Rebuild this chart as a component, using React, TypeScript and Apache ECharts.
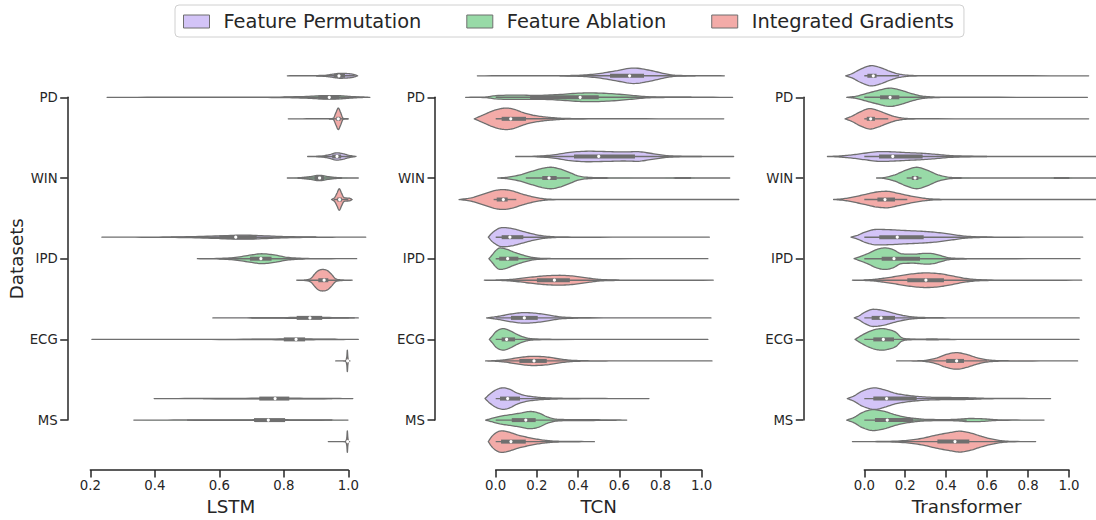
import React, { useEffect, useRef } from 'react';
import * as echarts from 'echarts';

// ---------------- data ----------------
const datasets = ['PD', 'WIN', 'IPD', 'ECG', 'MS'];
const methods = ['Feature Permutation', 'Feature Ablation', 'Integrated Gradients'];
const models = ['LSTM', 'TCN', 'Transformer'];
const xTicks = [
  [0.2, 0.4, 0.6, 0.8, 1.0],
  [0.0, 0.2, 0.4, 0.6, 0.8, 1.0],
  [0.0, 0.2, 0.4, 0.6, 0.8, 1.0],
];

// box stats per violin: [whiskerLow, q1, median, q3, whiskerHigh]; order: dataset-major, method-minor
const lstmStats = [
  [0.9, 0.955, 0.971, 0.99, 1.02], [0.8, 0.907, 0.941, 0.972, 1.05], [0.94, 0.963, 0.969, 0.976, 1.0],
  [0.9, 0.95, 0.965, 0.978, 1.01], [0.85, 0.895, 0.911, 0.925, 0.97], [0.955, 0.966, 0.973, 0.98, 1.0],
  [0.45, 0.6, 0.651, 0.716, 0.9], [0.6, 0.695, 0.729, 0.762, 0.86], [0.87, 0.907, 0.925, 0.938, 0.975],
  [0.7, 0.84, 0.881, 0.919, 1.02], [0.7, 0.8, 0.838, 0.866, 0.96], [0.99, 0.996, 0.998, 0.999, 1.0],
  [0.55, 0.724, 0.773, 0.817, 0.95], [0.5, 0.708, 0.752, 0.804, 0.95], [0.99, 0.996, 0.998, 0.999, 1.0],
];
// density outline knots per violin: [value, relative half-width]
const lstmShapes = [
  [[0.811, 0], [0.88, 0.01], [0.93, 0.06], [0.955, 0.16], [0.975, 0.23], [1.0, 0.2], [1.015, 0.14], [1.029, 0]],
  [[0.252, 0], [0.5, 0.005], [0.7, 0.01], [0.8, 0.03], [0.87, 0.08], [0.93, 0.16], [0.97, 0.15], [1.01, 0.07], [1.04, 0.02], [1.067, 0]],
  [[0.814, 0], [0.93, 0.01], [0.953, 0.05], [0.962, 0.6], [0.969, 1.0], [0.976, 0.6], [0.984, 0.05], [0.992, 0.01], [1.0, 0]],
  [[0.874, 0], [0.92, 0.05], [0.945, 0.2], [0.964, 0.34], [0.985, 0.25], [1.0, 0.12], [1.024, 0]],
  [[0.811, 0], [0.85, 0.03], [0.88, 0.12], [0.91, 0.25], [0.94, 0.12], [0.965, 0.04], [1.0, 0.01], [1.031, 0]],
  [[0.948, 0], [0.958, 0.2], [0.965, 0.6], [0.972, 1.0], [0.979, 0.6], [0.986, 0.2], [0.994, 0.14], [1.003, 0.13], [1.012, 0]],
  [[0.236, 0], [0.4, 0.01], [0.5, 0.04], [0.6, 0.12], [0.67, 0.19], [0.74, 0.13], [0.8, 0.06], [0.88, 0.02], [0.95, 0.005], [1.054, 0]],
  [[0.532, 0], [0.6, 0.03], [0.65, 0.12], [0.7, 0.35], [0.731, 0.46], [0.77, 0.35], [0.81, 0.13], [0.85, 0.04], [0.9, 0.01], [1.026, 0]],
  [[0.84, 0], [0.87, 0.04], [0.885, 0.2], [0.895, 0.55], [0.905, 0.85], [0.92, 1.0], [0.935, 0.9], [0.948, 0.55], [0.96, 0.15], [0.975, 0.04], [1.012, 0]],
  [[0.58, 0], [0.7, 0.01], [0.8, 0.03], [0.88, 0.05], [0.95, 0.03], [1.0, 0.01], [1.031, 0]],
  [[0.205, 0], [0.5, 0.005], [0.7, 0.015], [0.8, 0.04], [0.84, 0.05], [0.9, 0.03], [0.97, 0.01], [1.031, 0]],
  [[0.961, 0], [0.99, 0.01], [0.9955, 0.4], [0.997, 1.0], [0.9985, 0.4], [1.001, 0.02], [1.005, 0]],
  [[0.398, 0], [0.55, 0.01], [0.7, 0.03], [0.77, 0.04], [0.85, 0.03], [0.95, 0.01], [1.014, 0]],
  [[0.335, 0], [0.5, 0.01], [0.7, 0.03], [0.75, 0.04], [0.82, 0.03], [0.93, 0.01], [0.999, 0]],
  [[0.938, 0], [0.99, 0.01], [0.9955, 0.4], [0.997, 1.0], [0.9985, 0.4], [1.001, 0.02], [1.004, 0]],
];

const tcnStats = [
  [0.31, 0.555, 0.65, 0.72, 0.97], [0.0, 0.167, 0.41, 0.5, 0.95], [0.0, 0.029, 0.073, 0.147, 0.32],
  [0.2, 0.38, 0.5, 0.676, 1.0], [0.146, 0.226, 0.259, 0.296, 0.36], [-0.01, 0.005, 0.037, 0.058, 0.1],
  [0.0, 0.029, 0.069, 0.134, 0.28], [0.0, 0.017, 0.058, 0.11, 0.25], [0.0, 0.2, 0.285, 0.36, 0.6],
  [0.0, 0.074, 0.139, 0.204, 0.4], [0.0, 0.029, 0.053, 0.094, 0.19], [0.0, 0.115, 0.186, 0.248, 0.4],
  [0.0, 0.021, 0.058, 0.118, 0.26], [0.0, 0.078, 0.146, 0.194, 0.37], [0.0, 0.026, 0.074, 0.146, 0.3],
];
const tcnShapes = [
  [[-0.089, 0], [0.2, 0.005], [0.35, 0.02], [0.42, 0.06], [0.5, 0.2], [0.58, 0.45], [0.67, 0.72], [0.75, 0.5], [0.82, 0.2], [0.87, 0.05], [0.95, 0.015], [1.11, 0]],
  [[-0.146, 0], [-0.05, 0.03], [0.0, 0.15], [0.1, 0.2], [0.2, 0.18], [0.3, 0.25], [0.4, 0.38], [0.45, 0.41], [0.55, 0.35], [0.65, 0.2], [0.73, 0.06], [0.8, 0.02], [0.9, 0.01], [1.15, 0]],
  [[-0.104, 0], [-0.08, 0.2], [-0.05, 0.45], [-0.02, 0.7], [0.02, 0.93], [0.053, 1.0], [0.09, 0.88], [0.13, 0.6], [0.17, 0.38], [0.22, 0.22], [0.27, 0.12], [0.32, 0.05], [0.4, 0.02], [0.6, 0.008], [1.107, 0]],
  [[0.097, 0], [0.2, 0.03], [0.28, 0.15], [0.36, 0.38], [0.45, 0.49], [0.55, 0.45], [0.62, 0.42], [0.685, 0.45], [0.75, 0.3], [0.82, 0.1], [0.88, 0.03], [0.95, 0.01], [1.155, 0]],
  [[0.01, 0], [0.06, 0.08], [0.12, 0.3], [0.18, 0.65], [0.24, 0.95], [0.27, 1.0], [0.31, 0.85], [0.36, 0.5], [0.4, 0.2], [0.45, 0.06], [0.55, 0.02], [0.8, 0.01], [0.92, 0.03], [0.97, 0.01], [1.136, 0]],
  [[-0.178, 0], [-0.12, 0.15], [-0.06, 0.5], [0.0, 0.85], [0.037, 0.92], [0.08, 0.8], [0.13, 0.5], [0.18, 0.25], [0.23, 0.08], [0.28, 0.02], [0.4, 0.005], [1.18, 0]],
  [[-0.036, 0], [-0.02, 0.35], [0.0, 0.65], [0.02, 0.85], [0.04, 0.89], [0.08, 0.8], [0.13, 0.55], [0.18, 0.3], [0.23, 0.12], [0.28, 0.04], [0.35, 0.015], [0.5, 0.005], [1.037, 0]],
  [[-0.033, 0], [-0.015, 0.4], [0.0, 0.75], [0.021, 1.0], [0.05, 0.9], [0.09, 0.6], [0.13, 0.35], [0.17, 0.15], [0.21, 0.05], [0.28, 0.015], [0.45, 0.005], [1.03, 0]],
  [[-0.055, 0], [0.0, 0.01], [0.05, 0.04], [0.1, 0.12], [0.18, 0.3], [0.25, 0.42], [0.31, 0.46], [0.38, 0.38], [0.45, 0.2], [0.5, 0.08], [0.56, 0.03], [0.65, 0.01], [1.056, 0]],
  [[-0.044, 0], [-0.01, 0.08], [0.03, 0.2], [0.08, 0.38], [0.14, 0.49], [0.2, 0.42], [0.26, 0.25], [0.31, 0.1], [0.36, 0.04], [0.45, 0.01], [1.045, 0]],
  [[-0.031, 0], [-0.015, 0.35], [0.0, 0.7], [0.037, 1.0], [0.07, 0.8], [0.1, 0.5], [0.13, 0.25], [0.16, 0.1], [0.2, 0.04], [0.3, 0.01], [1.03, 0]],
  [[-0.049, 0], [0.0, 0.03], [0.05, 0.12], [0.12, 0.33], [0.18, 0.43], [0.25, 0.36], [0.31, 0.18], [0.37, 0.06], [0.43, 0.02], [0.55, 0.005], [1.05, 0]],
  [[-0.052, 0], [-0.03, 0.4], [0.0, 0.8], [0.037, 1.0], [0.07, 0.85], [0.1, 0.55], [0.14, 0.3], [0.2, 0.13], [0.26, 0.06], [0.32, 0.03], [0.4, 0.015], [0.55, 0.005], [0.744, 0]],
  [[-0.049, 0], [-0.02, 0.15], [0.02, 0.35], [0.07, 0.5], [0.12, 0.65], [0.167, 0.8], [0.21, 0.65], [0.25, 0.3], [0.29, 0.1], [0.35, 0.05], [0.45, 0.04], [0.55, 0.02], [0.636, 0]],
  [[-0.036, 0], [-0.02, 0.45], [0.0, 0.8], [0.029, 1.0], [0.07, 0.85], [0.11, 0.6], [0.16, 0.38], [0.21, 0.2], [0.26, 0.08], [0.31, 0.03], [0.38, 0.015], [0.479, 0]],
];

const trfStats = [
  [0.0, 0.015, 0.044, 0.06, 0.17], [0.0, 0.077, 0.126, 0.171, 0.3], [0.0, 0.012, 0.031, 0.052, 0.117],
  [0.0, 0.072, 0.139, 0.285, 0.6], [0.207, 0.232, 0.248, 0.264, 0.28], [0.0, 0.064, 0.101, 0.15, 0.21],
  [0.0, 0.073, 0.161, 0.29, 0.6], [0.0, 0.085, 0.145, 0.272, 0.5], [0.0, 0.21, 0.301, 0.389, 0.6],
  [0.0, 0.036, 0.082, 0.15, 0.3], [0.0, 0.044, 0.093, 0.145, 0.25], [0.3, 0.4, 0.451, 0.487, 0.6],
  [0.0, 0.044, 0.109, 0.256, 0.55], [0.0, 0.052, 0.112, 0.239, 0.5], [0.15, 0.357, 0.443, 0.513, 0.7],
];
const trfShapes = [
  [[-0.091, 0], [-0.06, 0.2], [-0.02, 0.6], [0.036, 0.94], [0.08, 0.75], [0.12, 0.45], [0.16, 0.2], [0.2, 0.07], [0.25, 0.02], [0.35, 0.005], [1.096, 0]],
  [[-0.086, 0], [-0.04, 0.1], [0.0, 0.3], [0.06, 0.6], [0.126, 0.85], [0.18, 0.65], [0.23, 0.35], [0.28, 0.12], [0.33, 0.04], [0.4, 0.01], [1.09, 0]],
  [[-0.094, 0], [-0.06, 0.25], [-0.02, 0.65], [0.028, 0.95], [0.07, 0.75], [0.11, 0.45], [0.15, 0.2], [0.19, 0.06], [0.24, 0.015], [0.35, 0.005], [1.096, 0]],
  [[-0.18, 0], [-0.12, 0.05], [-0.06, 0.15], [0.0, 0.3], [0.085, 0.46], [0.15, 0.42], [0.22, 0.35], [0.28, 0.3], [0.35, 0.2], [0.42, 0.08], [0.5, 0.03], [0.6, 0.01], [1.15, 0]],
  [[0.06, 0], [0.1, 0.05], [0.15, 0.3], [0.2, 0.7], [0.256, 1.0], [0.31, 0.7], [0.36, 0.3], [0.41, 0.08], [0.48, 0.02], [0.6, 0.008], [0.9, 0.01], [0.96, 0.04], [1.02, 0.01], [1.15, 0]],
  [[-0.15, 0], [-0.1, 0.08], [-0.05, 0.25], [0.0, 0.45], [0.06, 0.7], [0.109, 0.77], [0.16, 0.6], [0.22, 0.35], [0.28, 0.15], [0.33, 0.05], [0.4, 0.015], [0.55, 0.005], [1.15, 0]],
  [[-0.065, 0], [-0.03, 0.2], [0.0, 0.45], [0.06, 0.72], [0.12, 0.7], [0.2, 0.62], [0.28, 0.55], [0.35, 0.45], [0.42, 0.28], [0.48, 0.12], [0.54, 0.04], [0.62, 0.015], [0.75, 0.005], [1.067, 0]],
  [[-0.05, 0], [-0.02, 0.2], [0.02, 0.5], [0.06, 0.85], [0.101, 1.0], [0.14, 0.85], [0.183, 0.45], [0.24, 0.42], [0.3, 0.5], [0.33, 0.48], [0.37, 0.3], [0.41, 0.1], [0.46, 0.03], [0.55, 0.01], [1.054, 0]],
  [[-0.058, 0], [0.0, 0.02], [0.05, 0.08], [0.1, 0.2], [0.17, 0.4], [0.23, 0.58], [0.3, 0.68], [0.37, 0.6], [0.43, 0.4], [0.49, 0.18], [0.55, 0.06], [0.62, 0.02], [0.75, 0.005], [1.062, 0]],
  [[-0.049, 0], [-0.025, 0.2], [0.0, 0.5], [0.044, 0.8], [0.09, 0.7], [0.14, 0.45], [0.19, 0.22], [0.24, 0.08], [0.3, 0.03], [0.36, 0.015], [0.45, 0.005], [1.05, 0]],
  [[-0.045, 0], [-0.02, 0.3], [0.02, 0.7], [0.06, 0.95], [0.09, 1.0], [0.12, 0.9], [0.155, 0.65], [0.18, 0.2], [0.21, 0.05], [0.28, 0.02], [0.33, 0.05], [0.38, 0.02], [0.5, 0.005], [1.049, 0]],
  [[0.158, 0], [0.25, 0.01], [0.3, 0.06], [0.35, 0.25], [0.4, 0.6], [0.451, 0.77], [0.5, 0.6], [0.55, 0.3], [0.6, 0.1], [0.65, 0.03], [0.75, 0.01], [1.042, 0]],
  [[-0.083, 0], [-0.05, 0.25], [-0.01, 0.7], [0.052, 1.0], [0.1, 0.8], [0.15, 0.5], [0.2, 0.33], [0.26, 0.2], [0.33, 0.12], [0.42, 0.1], [0.5, 0.08], [0.55, 0.05], [0.6, 0.02], [0.7, 0.01], [0.91, 0]],
  [[-0.086, 0], [-0.05, 0.25], [-0.01, 0.7], [0.044, 0.97], [0.1, 0.8], [0.15, 0.5], [0.2, 0.28], [0.25, 0.15], [0.3, 0.07], [0.4, 0.05], [0.45, 0.07], [0.52, 0.15], [0.58, 0.12], [0.64, 0.04], [0.7, 0.015], [0.878, 0]],
  [[-0.058, 0], [0.0, 0.005], [0.1, 0.02], [0.2, 0.1], [0.28, 0.3], [0.35, 0.6], [0.42, 0.85], [0.467, 0.97], [0.52, 0.8], [0.57, 0.5], [0.62, 0.25], [0.67, 0.08], [0.72, 0.02], [0.837, 0]],
];

const allStats = [lstmStats, tcnStats, trfStats];
const allShapes = [lstmShapes, tcnShapes, trfShapes];

// ---------------- style ----------------
const FILLS = ['#d3c4f7', '#98daa7', '#f3aba8'];
const GRAY = '#6f6f6f';
const AX = '#262626';
const FONT = 'DejaVu Sans';
const DODGE = 0.8 / 3;
const HALF = DODGE / 2;

const GRID_LEFT = [90.3, 495.7, 864.3];
const GRID_WIDTH = [258, 206, 204.7];
const Y_AXIS_X = [67.7, 435, 803.3];
const GRID_TOP = 97.3;
const GRID_HEIGHT = 325.4;
const X_AXIS_Y = 472.7;

function sampleShape(knots: number[][]): number[][] {
  const n = knots.length;
  const xs = knots.map((k) => k[0]);
  const ys = knots.map((k) => k[1]);
  const d: number[] = [];
  for (let i = 0; i < n - 1; i++) d.push((ys[i + 1] - ys[i]) / (xs[i + 1] - xs[i]));
  const m: number[] = new Array(n).fill(0);
  m[0] = d[0];
  m[n - 1] = d[n - 2];
  for (let i = 1; i < n - 1; i++) m[i] = d[i - 1] * d[i] <= 0 ? 0 : (d[i - 1] + d[i]) / 2;
  for (let i = 0; i < n - 1; i++) {
    if (d[i] === 0) { m[i] = 0; m[i + 1] = 0; continue; }
    const a = m[i] / d[i];
    const b = m[i + 1] / d[i];
    const s = a * a + b * b;
    if (s > 9) {
      const t = 3 / Math.sqrt(s);
      m[i] = t * a * d[i];
      m[i + 1] = t * b * d[i];
    }
  }
  const out: number[][] = [];
  const steps = 8;
  for (let i = 0; i < n - 1; i++) {
    const h = xs[i + 1] - xs[i];
    for (let k = 0; k < steps; k++) {
      const t = k / steps;
      const t2 = t * t, t3 = t2 * t;
      const y = (2 * t3 - 3 * t2 + 1) * ys[i] + (t3 - 2 * t2 + t) * h * m[i] +
        (-2 * t3 + 3 * t2) * ys[i + 1] + (t3 - t2) * h * m[i + 1];
      out.push([xs[i] + t * h, Math.max(0, y)]);
    }
  }
  out.push([xs[n - 1], ys[n - 1]]);
  return out;
}

function makeRender(g: number, m: number) {
  const stats = allStats[g];
  const shapes = allShapes[g];
  const sampled = shapes.map(sampleShape);
  return (params: any, api: any) => {
    const d = params.dataIndex;
    const idx = d * 3 + m;
    const yc = d + (m - 1) * DODGE;
    const pts = sampled[idx];
    const top = pts.map((p) => api.coord([p[0], yc - p[1] * HALF]));
    const bot = pts.map((p) => api.coord([p[0], yc + p[1] * HALF])).reverse();
    const [lo, q1, med, q3, hi] = stats[idx];
    const pLo = api.coord([lo, yc]);
    const pHi = api.coord([hi, yc]);
    const pQ1 = api.coord([q1, yc]);
    const pQ3 = api.coord([q3, yc]);
    const pMed = api.coord([med, yc]);
    return {
      type: 'group',
      children: [
        {
          type: 'polygon',
          shape: { points: top.concat(bot) },
          style: { fill: FILLS[m], stroke: GRAY, lineWidth: 1.3, lineJoin: 'round' },
        },
        {
          type: 'line',
          shape: { x1: pLo[0], y1: pLo[1], x2: pHi[0], y2: pHi[1] },
          style: { stroke: GRAY, lineWidth: 1.4 },
        },
        {
          type: 'line',
          shape: { x1: pQ1[0], y1: pQ1[1], x2: pQ3[0], y2: pQ3[1] },
          style: { stroke: GRAY, lineWidth: 4, lineCap: 'butt' },
        },
        {
          type: 'circle',
          shape: { cx: pMed[0], cy: pMed[1], r: 1.6 },
          style: { fill: '#ffffff', stroke: 'none' },
        },
      ],
    };
  };
}

function buildOption() {
  const grid: any[] = [];
  const xAxis: any[] = [];
  const yAxis: any[] = [];
  const series: any[] = [];
  models.forEach((model, g) => {
    grid.push({ left: GRID_LEFT[g], width: GRID_WIDTH[g], top: GRID_TOP, height: GRID_HEIGHT });
    const ticks = xTicks[g];
    xAxis.push({
      type: 'value',
      gridIndex: g,
      min: ticks[0],
      max: ticks[ticks.length - 1],
      interval: 0.2,
      position: 'bottom',
      offset: X_AXIS_Y - (GRID_TOP + GRID_HEIGHT),
      axisLine: { show: true, onZero: false, lineStyle: { color: AX, width: 1.5 } },
      axisTick: { show: true, length: 7.5, lineStyle: { color: AX, width: 1.5 } },
      axisLabel: {
        color: AX, fontSize: 13.3, fontFamily: FONT, margin: 9,
        formatter: (v: number) => v.toFixed(1),
      },
      splitLine: { show: false },
      name: model,
      nameLocation: 'middle',
      nameGap: 21,
      nameTextStyle: {
        fontSize: 18.3, color: AX, fontFamily: FONT,
        padding: g === 0 ? [0, 0, 0, 23] : 0,
      },
    });
    yAxis.push({
      type: 'value',
      gridIndex: g,
      min: 0,
      max: datasets.length - 1,
      interval: 1,
      inverse: true,
      position: 'left',
      offset: GRID_LEFT[g] - Y_AXIS_X[g],
      axisLine: { show: true, onZero: false, lineStyle: { color: AX, width: 1.5 } },
      axisTick: { show: true, length: 7.5, lineStyle: { color: AX, width: 1.5 } },
      axisLabel: {
        color: AX, fontSize: 13.3, fontFamily: FONT, margin: 10,
        formatter: (v: number) => datasets[Math.round(v)] ?? '',
      },
      splitLine: { show: false },
      name: g === 0 ? 'Datasets' : '',
      nameLocation: 'middle',
      nameRotate: 90,
      nameGap: 40,
      nameTextStyle: { fontSize: 18.3, color: AX, fontFamily: FONT },
    });
    methods.forEach((method, m) => {
      series.push({
        type: 'custom',
        name: method,
        xAxisIndex: g,
        yAxisIndex: g,
        clip: false,
        itemStyle: { color: FILLS[m], borderColor: GRAY },
        encode: { x: 0, y: 1 },
        data: datasets.map((_, d) => [allStats[g][d * 3 + m][2], d + (m - 1) * DODGE]),
        renderItem: makeRender(g, m),
      });
    });
  });
  return {
    animation: false,
    backgroundColor: '#ffffff',
    legend: {
      top: 5,
      left: 175,
      orient: 'horizontal',
      selectedMode: false,
      itemWidth: 26,
      itemHeight: 13,
      itemGap: 45,
      padding: [7, 10, 6, 8],
      borderColor: '#d0d0d0',
      borderWidth: 1,
      borderRadius: 4,
      textStyle: { fontSize: 19.4, color: AX, fontFamily: FONT, padding: [0, 0, 0, 9] },
      data: methods.map((name, m) => ({
        name,
        icon: 'rect',
        itemStyle: { color: FILLS[m], borderColor: GRAY, borderWidth: 1 },
      })),
    },
    grid,
    xAxis,
    yAxis,
    series,
  };
}

export default function App() {
  const ref = useRef<HTMLDivElement>(null);
  useEffect(() => {
    if (!ref.current) return;
    const chart = echarts.init(ref.current, undefined, { renderer: 'svg' });
    chart.setOption(buildOption() as any);
    return () => chart.dispose();
  }, []);
  return (
    <div
      ref={ref}
      style={{ position: 'fixed', left: 0, top: 0, width: 1096, height: 520, background: '#fff' }}
    />
  );
}
